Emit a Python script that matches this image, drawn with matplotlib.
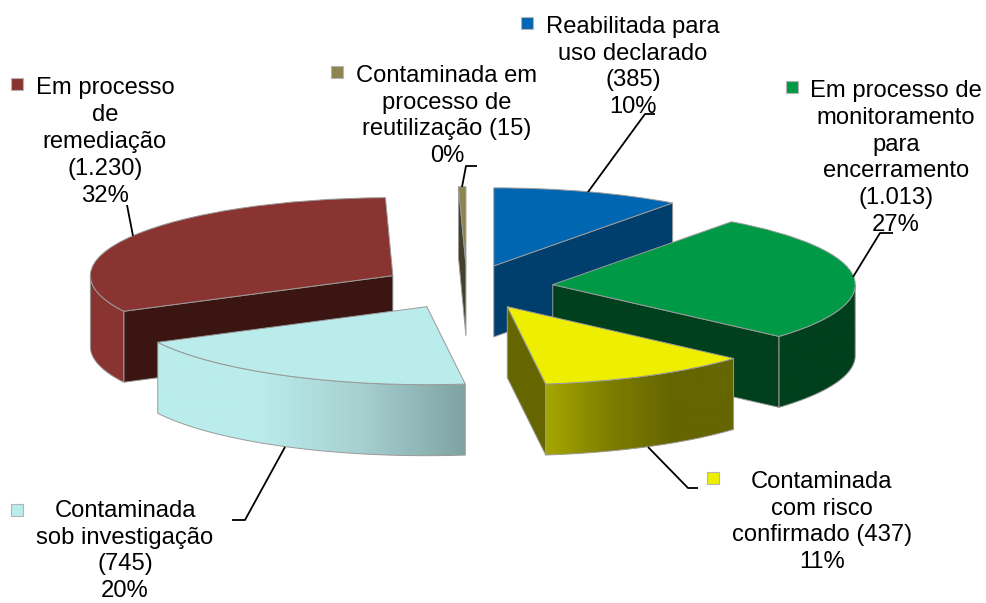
import numpy as np
import matplotlib
matplotlib.use("Agg")
import matplotlib.pyplot as plt
from matplotlib.colors import LinearSegmentedColormap
from matplotlib.patches import Polygon, Rectangle

W, H = 986, 603

# slices, clockwise from 12 o'clock
categories = ["Reabilitada", "Monitoramento", "Risco", "Investigacao", "Remediacao", "Reutilizacao"]
values = [385, 1013, 437, 745, 1230, 15]
labels = [
    "Reabilitada para\nuso declarado\n(385)\n10%",
    "Em processo de\nmonitoramento\npara\nencerramento\n(1.013)\n27%",
    "Contaminada\ncom risco\nconfirmado (437)\n11%",
    "Contaminada\nsob investigação\n(745)\n20%",
    "Em processo\nde\nremediação\n(1.230)\n32%",
    "Contaminada em\nprocesso de\nreutilização (15)\n0%",
]
top_colors = ["#0066B2", "#009A46", "#EEEE00", "#BAECEC", "#8A3432", "#8C8550"]
cut_colors = ["#003E6E", "#00401C", "#666600", "#7FA3A3", "#3A1512", "#45402A"]
# outer rim: colours from left to right
rim_colors = [
    ["#003E6E", "#003E6E"],
    ["#00401C", "#00401C"],
    ["#A6A600", "#7E7E00", "#666600", "#666600"],
    ["#BAECEC", "#BAECEC", "#A6CFCF", "#7FA3A3"],
    ["#8A3432", "#8A3432"],
    ["#45402A", "#45402A"],
]
draw_order = [5, 0, 4, 1, 2, 3]

# label placement in pixels: text centre, legend key
text_pos = [(633, 67), (896, 158), (822, 522), (125, 551), (105, 142), (447, 116)]
key_pos = [(527, 23), (792, 87), (713, 478), (17, 510), (17, 84), (337, 72)]
leaders = [
    [(588, 192), (645, 114), (655, 114)],
    [(853, 277), (880, 233), (893, 233)],
    [(648, 447), (688, 488), (698, 488)],
    [(285, 447), (245, 520), (232, 520)],
    [(127, 205), (133, 236)],
    [(462, 187), (466, 166), (477, 166)],
]

RX, RY = 302.5, 78.0
CX, CY = 467.0, 287.0
DEPTH = 71.0 / RY
EXPLODE = 0.285
EDGE = "#9A9A9A"

fig = plt.figure(figsize=(W / 100, H / 100), dpi=100, facecolor="white")
ax = fig.add_axes([0, 0, 1, 1])

wedges, _ = ax.pie(values, colors=top_colors, startangle=90, counterclock=False,
                   explode=[EXPLODE] * len(values),
                   wedgeprops={"edgecolor": EDGE, "linewidth": 0.7})

for z, i in enumerate(draw_order):
    w = wedges[i]
    base = 10 + z * 10
    cx, cy = w.center
    w.set_zorder(base + 5)

    # radial cut faces which turn towards the viewer
    for theta, normal in [(w.theta1, w.theta1 - 90), (w.theta2, w.theta2 + 90)]:
        if np.sin(np.radians(normal)) < -0.001:
            px = cx + w.r * np.cos(np.radians(theta))
            py = cy + w.r * np.sin(np.radians(theta))
            ax.add_patch(Polygon([(cx, cy), (px, py), (px, py - DEPTH), (cx, cy - DEPTH)],
                                 facecolor=cut_colors[i], edgecolor=EDGE, linewidth=0.7,
                                 zorder=base + 1))

    # outer rim, only the front half of the ellipse shows
    ts = np.radians(np.linspace(w.theta1, w.theta2, 300))
    ts = ts[np.sin(ts) <= 0]
    if len(ts) > 1:
        xs = cx + w.r * np.cos(ts)
        ys = cy + w.r * np.sin(ts)
        pts = np.r_[np.c_[xs, ys], np.c_[xs, ys - DEPTH][::-1]]
        rim = Polygon(pts, facecolor="none", edgecolor=EDGE, linewidth=0.7, zorder=base + 3)
        ax.add_patch(rim)
        cmap = LinearSegmentedColormap.from_list(f"rim{i}", rim_colors[i])
        img = ax.imshow(np.linspace(0, 1, 256)[None, :], cmap=cmap, aspect="auto",
                        extent=(xs.min(), xs.max(), ys.min() - DEPTH, ys.max()),
                        zorder=base + 2)
        img.set_clip_path(rim)

ax.set_aspect("auto")
ax.set_xlim((0 - CX) / RX, (W - CX) / RX)
ax.set_ylim((CY - H) / RY, CY / RY)
ax.axis("off")

# overlay in pixel coordinates for the labels and leader lines
over = fig.add_axes([0, 0, 1, 1], facecolor="none")
over.set_xlim(0, W)
over.set_ylim(H, 0)
over.axis("off")

for i, label in enumerate(labels):
    over.text(text_pos[i][0], text_pos[i][1], label, ha="center", va="center",
              multialignment="center", family="Liberation Sans", fontsize=17.1,
              linespacing=1.28, color="black")
    kx, ky = key_pos[i]
    over.add_patch(Rectangle((kx - 6, ky - 6), 12, 12, facecolor=top_colors[i],
                             edgecolor="#B5B5B5", linewidth=0.8))
    line = np.array(leaders[i])
    over.plot(line[:, 0], line[:, 1], color="black", linewidth=1.3, solid_capstyle="butt")

fig.savefig("out.png", dpi=100)
